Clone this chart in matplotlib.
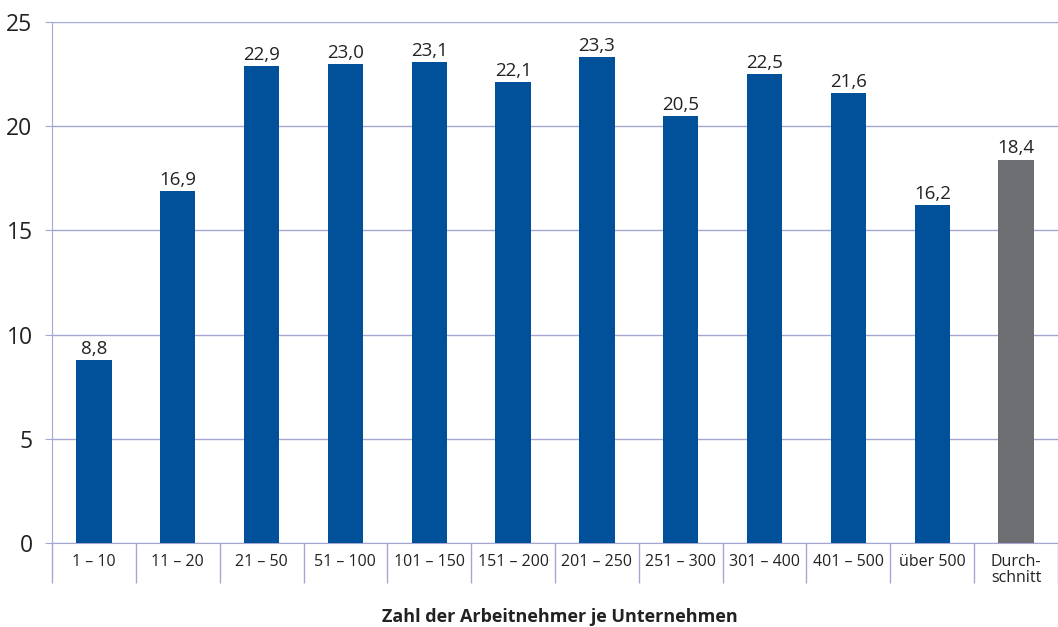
import matplotlib.pyplot as plt
import numpy as np

plt.rcParams['font.family'] = ['Open Sans', 'DejaVu Sans']

# ============================== DATA =================================
categories = ["1 – 10", "11 – 20", "21 – 50", "51 – 100", "101 – 150", "151 – 200",
              "201 – 250", "251 – 300", "301 – 400", "401 – 500", "über 500", "Durch-\nschnitt"]
values = [8.8, 16.9, 22.9, 23.0, 23.1, 22.1, 23.3, 20.5, 22.5, 21.6, 16.2, 18.4]

blue = "#00519a"
grey = "#6d6e71"
gridc = "#a6a6d2"

# ============================== PLOT =================================
fig = plt.figure(figsize=(10.58, 6.27), dpi=100)
ax = fig.add_axes([52 / 1058, 1 - 543 / 627, 1 - 52 / 1058, (543 - 22) / 627])

x = np.arange(len(values))
colors = [blue] * (len(values) - 1) + [grey]
ax.bar(x, values, width=0.42, color=colors, zorder=3)

for xi, v in zip(x, values):
    ax.text(xi, v + 0.1, f"{v:.1f}".replace(".", ","), ha="center", va="bottom",
            fontsize=13.5, color="#222222")

ax.set_ylim(0, 25)
ax.set_yticks(range(0, 26, 5))
ax.set_xlim(-0.5, -0.5 + (1058 - 52) / 84.6)

ax.grid(axis="y", color=gridc, linewidth=1, zorder=0)
for s in ["top", "right"]:
    ax.spines[s].set_visible(False)
ax.spines["left"].set_color(gridc)
ax.spines["bottom"].set_color(gridc)

ax.tick_params(axis="y", length=5, color=gridc, labelsize=16.5, pad=9, labelcolor="#222222")
ax.set_xticks(x)
ax.set_xticklabels(categories, fontsize=11.5, color="#222222", linespacing=1.0)
ax.tick_params(axis="x", which="major", length=0, pad=8)
ax.set_xticks(np.arange(-0.5, len(values), 1.0), minor=True)
ax.tick_params(axis="x", which="minor", length=29, color=gridc, width=1)

fig.text(560 / 1058, 1 - 617 / 627, "Zahl der Arbeitnehmer je Unternehmen", ha="center",
         va="center", fontsize=13, fontweight="bold", color="#222222")

fig.savefig("out.png", dpi=100)
